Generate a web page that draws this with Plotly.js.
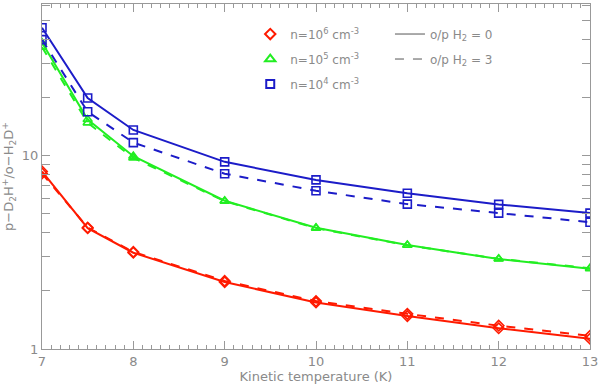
<!DOCTYPE html>
<html>
<head>
<meta charset="utf-8">
<script src="https://cdn.plot.ly/plotly-3.0.1.min.js"></script>
<style>
  body { margin: 0; background: #fff; }
  #chart { width: 600px; height: 389px; }
</style>
</head>
<body>
<div id="chart"></div>
<script>
// kinetic temperature (K)
var temps = [7, 7.5, 8, 9, 10, 11, 12, 13];

// p-D2H+/o-H2D+ ratio, o/p H2 = 0 (solid) and o/p H2 = 3 (dashed)
var n6_op0 = [8.3, 4.22, 3.15, 2.22, 1.74, 1.48, 1.28, 1.13];
var n6_op3 = [8.1, 4.25, 3.18, 2.25, 1.77, 1.52, 1.32, 1.17];
var n5_op0 = [38.5, 15.4, 9.95, 5.85, 4.24, 3.45, 2.92, 2.60];
var n5_op3 = [36.5, 14.8, 9.75, 5.82, 4.22, 3.44, 2.93, 2.62];
var n4_op0 = [46, 19.9, 13.6, 9.3, 7.5, 6.4, 5.6, 5.05];
var n4_op3 = [39.9, 16.9, 11.7, 8.07, 6.59, 5.62, 5.05, 4.53];

var yTicks = [1, 2, 3, 4, 5, 6, 7, 8, 9, 10, 20, 30, 40, 50, 60];
var yLabels = ['1', '', '', '', '', '', '', '', '', '10', '', '', '', '', ''];

var red = '#ff1a00', green = '#22ee22', blue = '#1c1cc8';
var grey = '#8a8a8a';

function series(y, color, symbol, dash) {
    return {
        x: temps, y: y, type: 'scatter', mode: 'lines+markers',
        line: {color: color, width: 2, dash: dash},
        marker: {symbol: symbol, size: 8, color: color, line: {color: color, width: 1.6}},
        showlegend: false, hoverinfo: 'skip'
    };
}

var data = [
    series(n6_op3, red, 'diamond-open', 'dash'),
    series(n6_op0, red, 'diamond-open', 'solid'),
    series(n5_op3, green, 'triangle-up-open', 'dash'),
    series(n5_op0, green, 'triangle-up-open', 'solid'),
    series(n4_op3, blue, 'square-open', 'dash'),
    series(n4_op0, blue, 'square-open', 'solid'),
    // legend entries
    {x: [null], y: [null], mode: 'markers', name: 'n=10<sup>6</sup> cm<sup>-3</sup>', legendgroup: 'a',
        marker: {symbol: 'diamond-open', size: 8, color: red, line: {color: red, width: 2}}},
    {x: [null], y: [null], mode: 'markers', name: 'n=10<sup>5</sup> cm<sup>-3</sup>', legendgroup: 'b',
        marker: {symbol: 'triangle-up-open', size: 9, color: green, line: {color: green, width: 2}}},
    {x: [null], y: [null], mode: 'markers', name: 'n=10<sup>4</sup> cm<sup>-3</sup>', legendgroup: 'c',
        marker: {symbol: 'square-open', size: 8, color: blue, line: {color: blue, width: 2}}},
    {x: [null], y: [null], mode: 'lines', name: 'o/p H<sub>2</sub> = 0', legend: 'legend2', legendgroup: 'd',
        line: {color: '#555', width: 1}},
    {x: [null], y: [null], mode: 'lines', name: 'o/p H<sub>2</sub> = 3', legend: 'legend2', legendgroup: 'e',
        line: {color: '#555', width: 1, dash: 'dash'}}
];

var legendFont = {family: 'DejaVu Sans', size: 12, color: grey};

var layout = {
    width: 600, height: 389,
    margin: {l: 42, r: 10, t: 4, b: 40},
    paper_bgcolor: '#fff', plot_bgcolor: '#fff',
    font: {family: 'DejaVu Sans', color: grey, size: 12},
    xaxis: {
        range: [7, 13], dtick: 1, ticks: 'inside', ticklen: 8, tickcolor: '#999',
        showline: true, linecolor: '#999', mirror: 'ticks', showgrid: false, zeroline: false,
        minor: {dtick: 0.1, ticks: 'inside', ticklen: 4, tickcolor: '#999'},
        tickfont: {size: 13, color: grey},
        title: {text: 'Kinetic temperature (K)', font: {size: 13, color: grey}, standoff: 4}
    },
    yaxis: {
        type: 'log', range: [0, Math.log10(61)], tickmode: 'array',
        tickvals: yTicks, ticktext: yLabels, ticks: 'inside', ticklen: 8, tickcolor: '#999',
        showline: true, linecolor: '#999', mirror: 'ticks', showgrid: false, zeroline: false,
        tickfont: {size: 13, color: grey},
        title: {text: 'p\u2212D<sub>2</sub>H<sup>+</sup>/o\u2212H<sub>2</sub>D<sup>+</sup>', font: {size: 13, color: grey}, standoff: 10}
    },
    legend: {
        x: 0.38, y: 0.955, xanchor: 'left', yanchor: 'top', bgcolor: 'rgba(0,0,0,0)',
        font: legendFont, tracegroupgap: 6, itemwidth: 30
    },
    legend2: {
        x: 0.635, y: 0.955, xanchor: 'left', yanchor: 'top', bgcolor: 'rgba(0,0,0,0)',
        font: legendFont, tracegroupgap: 6, itemwidth: 30
    }
};

Plotly.newPlot('chart', data, layout, {displayModeBar: false, staticPlot: true});
</script>
</body>
</html>
